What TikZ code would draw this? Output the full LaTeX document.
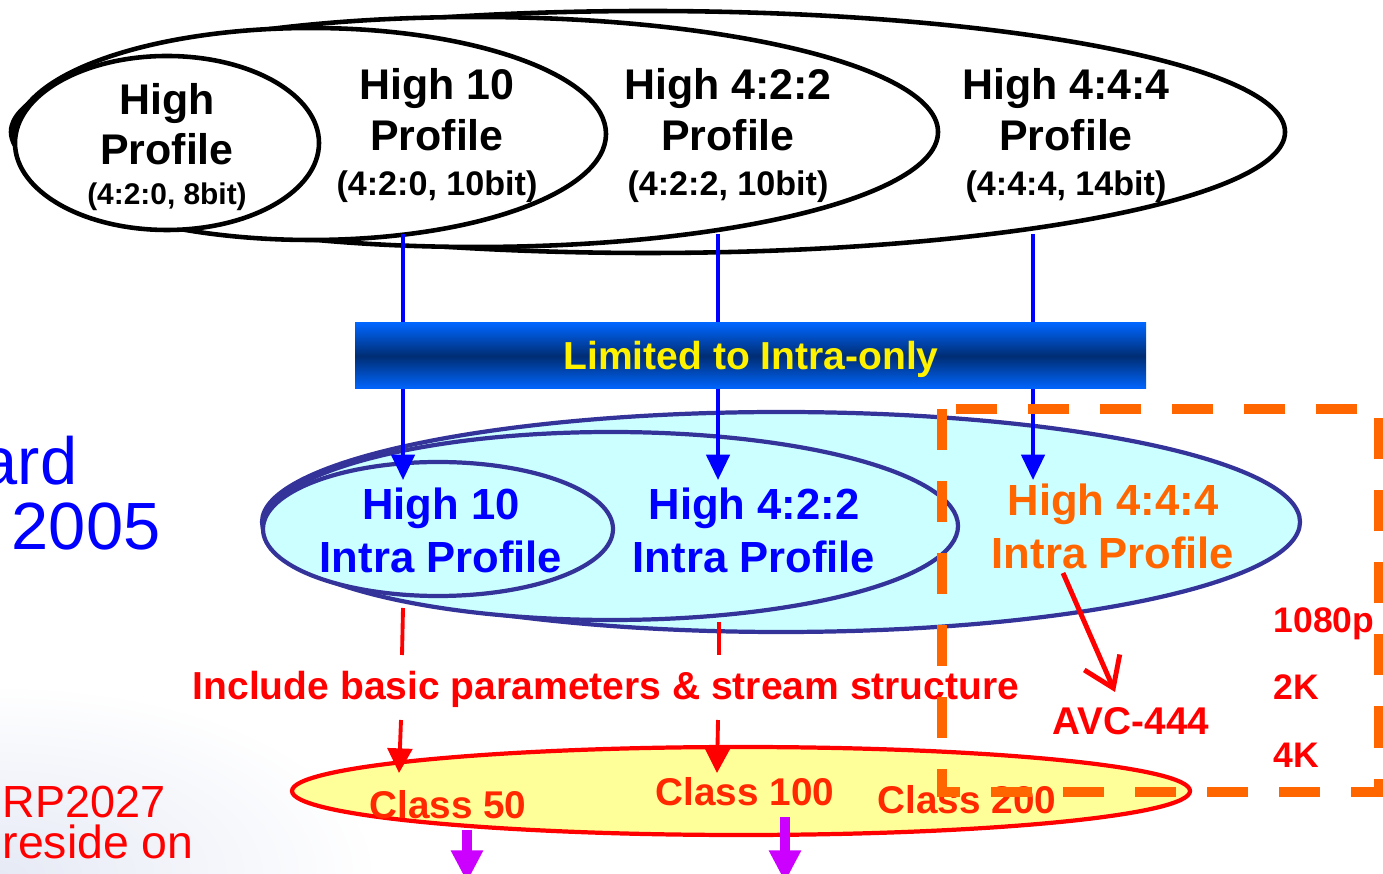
\documentclass[tikz,border=0pt]{standalone}
\usepackage{fontspec}
\setmainfont{Liberation Sans}
\usepackage{tikz}
\usetikzlibrary{arrows.meta}
\definecolor{BarBlue}{RGB}{0,102,255}
\definecolor{BarNavy}{RGB}{0,45,115}
\definecolor{IntraFill}{RGB}{204,255,255}
\definecolor{IntraLine}{RGB}{51,51,153}
\definecolor{AccentOrange}{RGB}{255,102,0}
\definecolor{ClassFill}{RGB}{255,255,153}
\definecolor{ClassRed}{RGB}{255,40,0}
\definecolor{ArrowPurple}{RGB}{204,0,255}
\definecolor{GlowGray}{RGB}{230,234,245}
\newcommand{\profsub}{\fontsize{9.7}{11}\selectfont}

\begin{document}
\begin{tikzpicture}[x=0.01cm, y=-0.01cm,
    toplbl/.style={font=\bfseries\fontsize{12.2}{14.5}\selectfont, align=center, inner sep=0pt, anchor=north},
    intralbl/.style={font=\bfseries\fontsize{12.4}{15}\selectfont, align=center, inner sep=0pt, anchor=north},
    redlbl/.style={font=\bfseries\fontsize{11}{13}\selectfont, text=red, inner sep=0pt, anchor=base},
    bluearrow/.style={draw=blue, line width=1.1pt, -{Triangle[width=6.6pt, length=7.2pt]}},
    redarrow/.style={draw=red, line width=1.1pt, -{Triangle[width=7pt, length=7pt]}},
    purplearrow/.style={draw=ArrowPurple, line width=2.8pt, -{Triangle[width=8.6pt, length=9pt]}}]
    \useasboundingbox (0,0) rectangle (1383,874);
    \clip (0,0) rectangle (1383,874);
    \shade[inner color=GlowGray, outer color=white] (0,874) ellipse [x radius=380, y radius=190];

    % Profiles
    \draw[line width=1.3pt, fill=white] (648,132) ellipse [x radius=637, y radius=121];
    \draw[line width=1.3pt, fill=white] (476,132) ellipse [x radius=462, y radius=115];
    \draw[line width=1.3pt, fill=white] (311,134) ellipse [x radius=295, y radius=106];
    \draw[line width=1.3pt, fill=white] (167,143) ellipse [x radius=152, y radius=87];
    \node[toplbl] (hp) at (167,83) {High\\[-0.3pt]Profile\\[-3.1pt]{\fontsize{8.5}{10}\selectfont (4:2:0, 8bit)}};
    \node[toplbl] (h10) at (437,68) {High 10\\Profile\\[-1.7pt]{\profsub (4:2:0, 10bit)}};
    \node[toplbl] (h422) at (728,68) {High 4:2:2\\Profile\\[-1.7pt]{\profsub (4:2:2, 10bit)}};
    \node[toplbl] (h444) at (1066,68) {High 4:4:4\\Profile\\[-1.7pt]{\profsub (4:4:4, 14bit)}};

    % Intra profiles
    \draw[IntraLine, line width=1.2pt, fill=IntraFill] (781,522) ellipse [x radius=519, y radius=110];
    \draw[IntraLine, line width=1.2pt, fill=IntraFill] (611,526) ellipse [x radius=347, y radius=94];
    \draw[IntraLine, line width=1.2pt, fill=IntraFill] (438,529) ellipse [x radius=175, y radius=67];
    \node[intralbl, text=blue] (i10) at (441,487) {High 10\\Intra Profile};
    \node[intralbl, text=blue] (i422) at (754,487) {High 4:2:2\\Intra Profile};
    \node[intralbl, text=AccentOrange] (i444) at (1113,483) {High 4:4:4\\Intra Profile};

    % Classes
    \draw[red, line width=1.2pt, fill=ClassFill] (741,791) ellipse [x radius=449, y radius=44];
    \node[redlbl, text=ClassRed] (c50) at (448,818) {Class 50};
    \node[redlbl, text=ClassRed] (c100) at (745,805) {Class 100};
    \node[redlbl, text=ClassRed] (c200) at (967,813) {Class 200};

    % Intra-only restriction
    \coordinate (bs1) at (403,234); \coordinate (be1) at (403,480);
    \coordinate (bs2) at (718,234); \coordinate (be2) at (718,480);
    \coordinate (bs3) at (1033,234); \coordinate (be3) at (1033,480);
    \draw[bluearrow] (bs1) -- (be1);
    \draw[bluearrow] (bs2) -- (be2);
    \draw[bluearrow] (bs3) -- (be3);
    \shade[top color=BarBlue, bottom color=BarBlue, middle color=BarNavy] (355,323) rectangle (1146,389);
    \node[font=\bfseries\fontsize{11.1}{13}\selectfont, text=yellow, anchor=base, inner sep=0pt] (limit) at (751,370) {Limited to Intra-only};

    % Parameters and stream structure
    \node[redlbl, font=\bfseries\fontsize{11.1}{13}\selectfont] (incl) at (606,700) {Include basic parameters \& stream structure};
    \coordinate (ra1) at (403,608); \coordinate (rb1) at (402,655);
    \coordinate (rc1) at (401,720); \coordinate (rd1) at (399,773);
    \coordinate (ra2) at (719,622); \coordinate (rb2) at (719,655);
    \coordinate (rc2) at (718,720); \coordinate (rd2) at (717,773);
    \draw[red, line width=1.1pt] (ra1) -- (rb1);
    \draw[redarrow] (rc1) -- (rd1);
    \draw[red, line width=1.1pt] (ra2) -- (rb2);
    \draw[redarrow] (rc2) -- (rd2);

    % AVC-444
    \node[redlbl] (avc) at (1131,735) {AVC-444};
    \coordinate (avs) at (1063,573); \coordinate (ave) at (1115,692);
    \draw[red, line width=1.4pt, -{Straight Barb[length=8pt, width=11pt]}] (avs) -- (ave);
    \node[redlbl, anchor=base west, font=\bfseries\fontsize{10.1}{12}\selectfont] (res1080) at (1273,633) {1080p};
    \node[redlbl, anchor=base west, font=\bfseries\fontsize{10.1}{12}\selectfont] (res2k) at (1273,700) {2K};
    \node[redlbl, anchor=base west, font=\bfseries\fontsize{10.1}{12}\selectfont] (res4k) at (1273,767) {4K};

    % Outputs
    \coordinate (ps1) at (467,830); \coordinate (pe1) at (467,882);
    \coordinate (ps2) at (785,817); \coordinate (pe2) at (785,882);
    \draw[purplearrow] (ps1) -- (pe1);
    \draw[purplearrow] (ps2) -- (pe2);

    % Side text
    \node[font=\fontsize{19}{22}\selectfont, text=blue, anchor=base east, inner sep=0pt] (stdA) at (78,485) {ard};
    \node[font=\fontsize{19}{22}\selectfont, text=blue, anchor=base west, inner sep=0pt] (stdB) at (11,550) {2005};
    \node[font=\fontsize{12.8}{15}\selectfont, text=red, anchor=base west, inner sep=0pt] (rpA) at (2,817) {RP2027};
    \node[font=\fontsize{13.2}{15}\selectfont, text=red, anchor=base west, inner sep=0pt] (rpB) at (2,858) {reside on};

    % 4:4:4 box
    \draw[AccentOrange, line width=2.85pt, dash pattern=on 0.41cm off 0.31cm] (942,409) -- (942,792) -- (1379,792) -- (1379,409) -- cycle;
\end{tikzpicture}
\end{document}
